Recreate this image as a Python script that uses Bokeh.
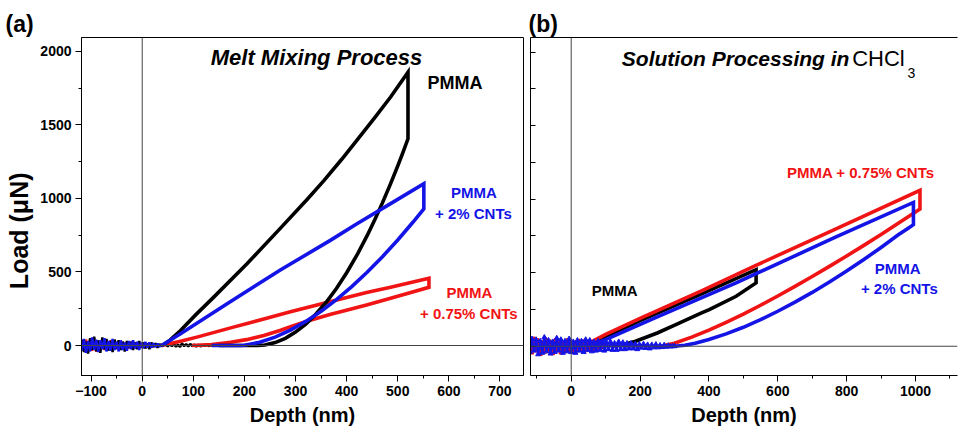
from bokeh.plotting import figure
from bokeh.models import (Span, Label, LinearAxis, SingleIntervalTicker, FixedTicker, Range1d,
                          Title, CustomJSTickFormatter)
from bokeh.layouts import row
from bokeh.embed import file_html
from bokeh.resources import INLINE

# ---------------- data: panel (a) melt mixing ----------------
a_pmma_depth = [39, 55, 75, 105, 140, 205, 271, 323, 355, 390, 421, 455, 486, 520,
                520, 510, 500, 486, 470, 455, 440, 420, 400, 380, 360, 340, 320, 300, 280, 260, 240, 225, 190, 150]
a_pmma_load = [0, 38, 102, 210, 329, 556, 800, 995, 1120, 1265, 1400, 1550, 1690, 1859,
               1406, 1312, 1222, 1101, 970, 855, 747, 614, 495, 388, 294, 214, 146, 91, 49, 20, 4, 0, 0, 0]

a_cnt2_depth = [38, 75, 173, 271, 368, 421, 486, 551,
                551, 530, 500, 470, 440, 410, 380, 350, 320, 290, 260, 230, 200, 190, 136]
a_cnt2_load = [0, 80, 300, 515, 715, 830, 965, 1100,
               930, 840, 718, 604, 498, 401, 312, 233, 164, 105, 57, 22, 2, 0, 0]

a_cnt075_depth = [38, 77, 107, 173, 238, 290, 369, 439, 486, 561,
                  561, 517, 486, 439, 390, 369, 322, 290, 271, 238, 204, 173, 136, 97]
a_cnt075_load = [0, 30, 57, 120, 181, 230, 300, 360, 396, 457,
                 396, 352, 322, 276, 232, 212, 165, 128, 104, 68, 40, 22, 6, 0]

a_noise_depth = [-118, -114, -110, -106, -102, -98, -94, -90, -86, -82, -78, -74, -70, -66, -62, -58,
                 -54, -50, -46, -42, -38, -34, -30, -26, -22, -18, -14, -10, -6, -2, 2, 6, 10, 14,
                 18, 22, 26, 30, 34, 38, 42,
                 46, 50, 54, 58, 62, 66, 70, 74, 78, 82, 86, 90, 94, 98, 102, 106, 110, 114, 118,
                 122, 126, 130, 134, 138, 142, 146, 150]
a_noise_pmma = [40, -45, 25, -55, 50, -30, 60, -40, 35, -50, 55, -25, 45, -35, 30, -45, 40, -20, 35, -30,
                25, -40, 30, -15, 25, -30, 20, -25, 30, -15, 20, -20, 15, -25, 20, -10, 15, -15, 10, -5, 5,
                8, -6, 12, -4, 10, -8, 6, -10, 14, -5, 9, -7, 11, -4, 6, -8, 5, -6, 4, -3, 6, -4, 3, -2, 2, 0, 0]
a_noise_cnt2 = [-35, 45, -50, 30, -40, 55, -30, 40, -45, 35, -25, 50, -40, 30, -35, 45, -30, 25, -40, 35,
                -30, 20, -35, 30, -25, 35, -20, 25, -30, 20, -20, 25, -15, 20, -15, 15, -10, 12, -8, 6, 0]
a_noise_cnt075 = [25, -30, 40, -20, 35, -35, 20, -40, 30, -25, 40, -30, 25, -20, 35, -30, 20, -25, 30, -20,
                  25, -30, 15, -20, 25, -15, 20, -20, 15, -10, 15, -12, 10, -10, 8, -6, 6, -4, 3, -2, 0]

# ---------------- data: panel (b) solution processing ----------------
b_pmma_depth = [60, 200, 377, 537, 537, 479, 401, 377, 304, 250, 187, 150]
b_pmma_load = [20, 175, 355, 521, 431, 340, 249, 225, 147, 90, 34, 10]

b_cnt075_depth = [50, 100, 200, 377, 532, 766, 1013,
                  1013, 1000, 950, 900, 850, 800, 750, 700, 650, 600, 550, 500, 450, 400, 350, 300, 270]
b_cnt075_load = [20, 80, 190, 375, 545, 795, 1060,
                 933, 913, 836, 760, 686, 614, 543, 474, 407, 342, 279, 219, 163, 110, 62, 20, 5]

b_cnt2_depth = [60, 100, 250, 479, 766, 994,
                994, 980, 950, 900, 850, 800, 750, 700, 650, 600, 550, 500, 450, 400, 360, 330, 300]
b_cnt2_load = [10, 45, 200, 431, 740, 978,
               827, 805, 758, 672, 590, 511, 437, 366, 300, 238, 181, 129, 84, 46, 21, 7, 0]

b_noise_depth = [-120, -114, -108, -102, -96, -90, -84, -78, -72, -66, -60, -54, -48, -42, -36, -30,
                 -24, -18, -12, -6, 0, 6, 12, 18, 24, 30, 36, 42, 48, 54, 60, 66, 72, 78, 84, 90, 96,
                 102, 108, 114, 120, 126, 132, 138, 144, 150, 156, 162, 168, 174, 180, 186, 192, 198,
                 204, 210, 216, 222, 228, 234, 240, 246, 252, 258, 264, 270, 276, 282, 288, 294, 300]
b_noise_cnt2 = [-40, 50, -30, 45, -55, 35, -45, 60, -35, 40, -50, 30, -40, 55, -30, 45, -45, 35, -35, 50,
                -40, 30, -45, 40, -30, 35, -40, 45, -25, 40, -35,
                30, -30, 35, -25, 30, -30, 25, -20, 30, -25, 20, -25, 30, -20, 25, -20, 20,
                -15, 20, -15, 15, -20, 12, -10, 15, -12, 10, -15, 10, -8, 12, -8, 6, -6, 8, -4, 4, -2, 0, 0]
b_noise_cnt075 = [35, -45, 50, -30, 40, -55, 25, -40, 45, -35, 30, -50, 40, -30, 35, -45, 25, -35, 40, -30,
                  30, -40, 25, -30, 35, -25, 30, -30, 20, -25, 25, -20, 15, -15, 10, -8, 5]

FONT = "Liberation Sans"
BLACK = "#000000"
RED = "#f01414"
BLUE = "#1414e6"
LW = 3.6
NBSP = "\u00a0"


def style_axis(ax, size="14px"):
    ax.major_label_text_font = FONT
    ax.major_label_text_font_style = "bold"
    ax.major_label_text_font_size = size
    ax.major_label_text_color = "black"
    ax.axis_line_color = "black"
    ax.major_tick_line_color = "black"
    ax.minor_tick_line_color = "black"
    ax.axis_label_text_font = FONT
    ax.axis_label_text_font_style = "bold"
    ax.axis_label_text_font_size = "20px"
    ax.axis_label_text_color = "black"


def lbl(p, x, y, text, color, size="15px", style="bold", align="center", baseline="middle"):
    p.add_layout(Label(x=x, y=y, text=text, text_color=color,
                       text_font=FONT, text_font_style=style, text_font_size=size,
                       text_align=align, text_baseline=baseline))


# ---------------- panel (a) ----------------
pa = figure(width=524, height=429, x_range=Range1d(-118.8, 746), y_range=Range1d(-204, 2095),
            output_backend="svg", toolbar_location=None,
            min_border_left=81, min_border_right=1, min_border_top=37, min_border_bottom=54)
pa.grid.visible = False
pa.outline_line_color = "black"
pa.outline_line_alpha = 1
pa.outline_line_width = 1
pa.xaxis.ticker = SingleIntervalTicker(interval=100, num_minor_ticks=2)
pa.yaxis.ticker = SingleIntervalTicker(interval=500, num_minor_ticks=2)
for ax in (pa.xaxis[0], pa.yaxis[0]):
    style_axis(ax)
    ax.major_tick_out = 6
    ax.major_tick_in = 0
    ax.minor_tick_out = 3
    ax.minor_tick_in = 0
    ax.major_label_standoff = 4
pa.xaxis.axis_label = "Depth (nm)"
pa.xaxis.axis_label_standoff = 5
pa.yaxis.axis_label = "Load (\u03bcN)" + NBSP * 7
pa.yaxis.axis_label_text_font_size = "25px"
pa.yaxis.axis_label_standoff = 4

pa.add_layout(Title(text="(a)", align="left", offset=-76, standoff=1, text_font=FONT,
                    text_font_style="bold", text_font_size="23px", text_color="black"), "above")

pa.add_layout(Span(location=0, dimension="height", line_color="#444444", line_width=1))
pa.add_layout(Span(location=0, dimension="width", line_color="#444444", line_width=1))

pa.line(a_noise_depth[:41], a_noise_cnt075, line_color=RED, line_width=2.5)
pa.line(a_noise_depth, a_noise_pmma, line_color=BLACK, line_width=2.5)
pa.line(a_noise_depth[:41], a_noise_cnt2, line_color=BLUE, line_width=2.5)

pa.line(a_cnt075_depth, a_cnt075_load, line_color=RED, line_width=LW, line_join="miter")
pa.line(a_pmma_depth, a_pmma_load, line_color=BLACK, line_width=LW, line_join="miter")
pa.line(a_cnt2_depth, a_cnt2_load, line_color=BLUE, line_width=LW, line_join="miter")

lbl(pa, 341, 1956, "Melt Mixing Process", BLACK, size="22px", style="bold italic")
lbl(pa, 612, 1786, "PMMA", BLACK, size="18px")
lbl(pa, 649, 1040, "PMMA", BLUE)
lbl(pa, 648, 895, "+ 2% CNTs", BLUE)
lbl(pa, 640, 362, "PMMA", RED)
lbl(pa, 639, 219, "+ 0.75% CNTs", RED)

# ---------------- panel (b) ----------------
pb = figure(width=434, height=429, x_range=Range1d(-118.2, 1122), y_range=Range1d(-199, 2100),
            output_backend="svg", toolbar_location=None,
            min_border_left=6, min_border_right=1, min_border_top=37, min_border_bottom=53)
pb.grid.visible = False
pb.outline_line_color = None
pb.xaxis.ticker = SingleIntervalTicker(interval=200, num_minor_ticks=2)
style_axis(pb.xaxis[0])
pb.xaxis.major_tick_out = 6
pb.xaxis.major_tick_in = 0
pb.xaxis.minor_tick_out = 3
pb.xaxis.minor_tick_in = 0
pb.xaxis.major_label_standoff = 4
pb.xaxis.axis_label = "Depth (nm)"
pb.xaxis.axis_label_standoff = 5

pb.yaxis.ticker = SingleIntervalTicker(interval=250, num_minor_ticks=0)
pb.yaxis.formatter = CustomJSTickFormatter(code="return ''")
pb.yaxis.axis_line_color = "black"
pb.yaxis.major_tick_line_color = "black"
pb.yaxis.major_tick_in = 5
pb.yaxis.major_tick_out = 0
pb.yaxis.minor_tick_in = 0
pb.yaxis.minor_tick_out = 0
pb.yaxis.major_label_standoff = 0

top = LinearAxis(ticker=FixedTicker(ticks=[]), major_tick_in=0, major_tick_out=0,
                 minor_tick_in=0, minor_tick_out=0, major_label_standoff=0,
                 axis_line_color="black")
pb.add_layout(top, "above")
pb.add_layout(Title(text="(b)", align="left", offset=-2, standoff=1, text_font=FONT,
                    text_font_style="bold", text_font_size="23px", text_color="black"), "above")

pb.add_layout(Span(location=0, dimension="height", line_color="#444444", line_width=1))
pb.add_layout(Span(location=0, dimension="width", line_color="#444444", line_width=1))

pb.line(b_noise_depth[:37], b_noise_cnt075, line_color=RED, line_width=2.5)
pb.scatter(b_noise_depth[:37], b_noise_cnt075, marker="triangle", size=4, color=RED)
pb.line(b_pmma_depth, b_pmma_load, line_color=BLACK, line_width=LW, line_join="miter")
pb.line(b_cnt075_depth, b_cnt075_load, line_color=RED, line_width=LW, line_join="miter")
pb.line(b_noise_depth, b_noise_cnt2, line_color=BLUE, line_width=2.5)
pb.scatter(b_noise_depth, b_noise_cnt2, marker="triangle", size=5, color=BLUE)
pb.line(b_cnt2_depth, b_cnt2_load, line_color=BLUE, line_width=LW, line_join="miter")

lbl(pb, 808, 1955, "Solution Processing in", BLACK, size="21px", style="bold italic", align="right")
lbl(pb, 816, 1955, "CHCl", BLACK, size="22px", style="normal", align="left")
lbl(pb, 977, 1860, "3", BLACK, size="14px", style="normal", align="left")
lbl(pb, 841, 1183, "PMMA + 0.75% CNTs", RED)
lbl(pb, 126, 378, "PMMA", BLACK)
lbl(pb, 948, 532, "PMMA", BLUE)
lbl(pb, 953, 390, "+ 2% CNTs", BLUE)

layout = row(pa, pb)
open("out.html", "w").write(file_html(layout, INLINE))
